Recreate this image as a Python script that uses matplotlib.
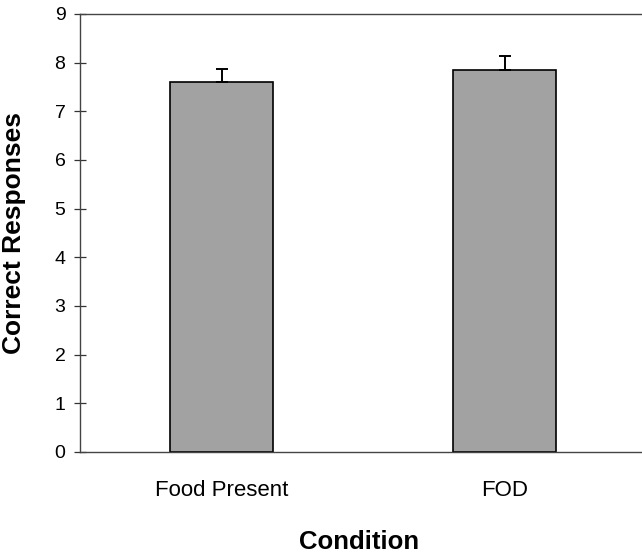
import numpy as np
import matplotlib
matplotlib.use("Agg")
import matplotlib.pyplot as plt

# values
conditions = ["Food Present", "FOD"]
means = [7.61, 7.85]
sem = [0.25, 0.29]
yticks = list(range(0, 10))

plt.rcParams['font.family'] = ['Liberation Sans', 'DejaVu Sans']

fig = plt.figure(figsize=(6.42, 5.54), dpi=100)
# axes runs a little past the right edge, like the scanned original
ax = fig.add_axes([80/642, 1-452/554, 566/642, 438/554])

x = np.arange(len(conditions))
ax.bar(x, means, width=0.365, color='#a2a2a2', edgecolor='black', linewidth=1.2, zorder=2)
ax.errorbar(x, means, yerr=[np.zeros(len(sem)), sem], fmt='none', ecolor='black',
            elinewidth=1.4, capsize=4, capthick=1.4, zorder=3)

ax.set_xlim(-0.5, 1.5)
ax.set_ylim(0, 9)
ax.set_yticks(yticks)
ax.set_xticks(x)
ax.set_xticklabels(conditions, fontsize=16)
ax.tick_params(axis='x', length=0, pad=20)
ax.tick_params(axis='y', direction='inout', length=9, width=0.9, labelsize=14, pad=6, color='#333333')

for side in ['left', 'bottom', 'top']:
    ax.spines[side].set_color('#444444')
    ax.spines[side].set_linewidth(1.0)
ax.spines['right'].set_visible(False)

ax.set_xlabel("Condition", fontsize=18.5, fontweight='bold')
ax.xaxis.set_label_coords(0.493, -0.178)
ax.set_ylabel("Correct Responses", fontsize=19, fontweight='bold')
ax.yaxis.set_label_coords(-0.095, 0.5)

plt.savefig("out.png", dpi=100)
